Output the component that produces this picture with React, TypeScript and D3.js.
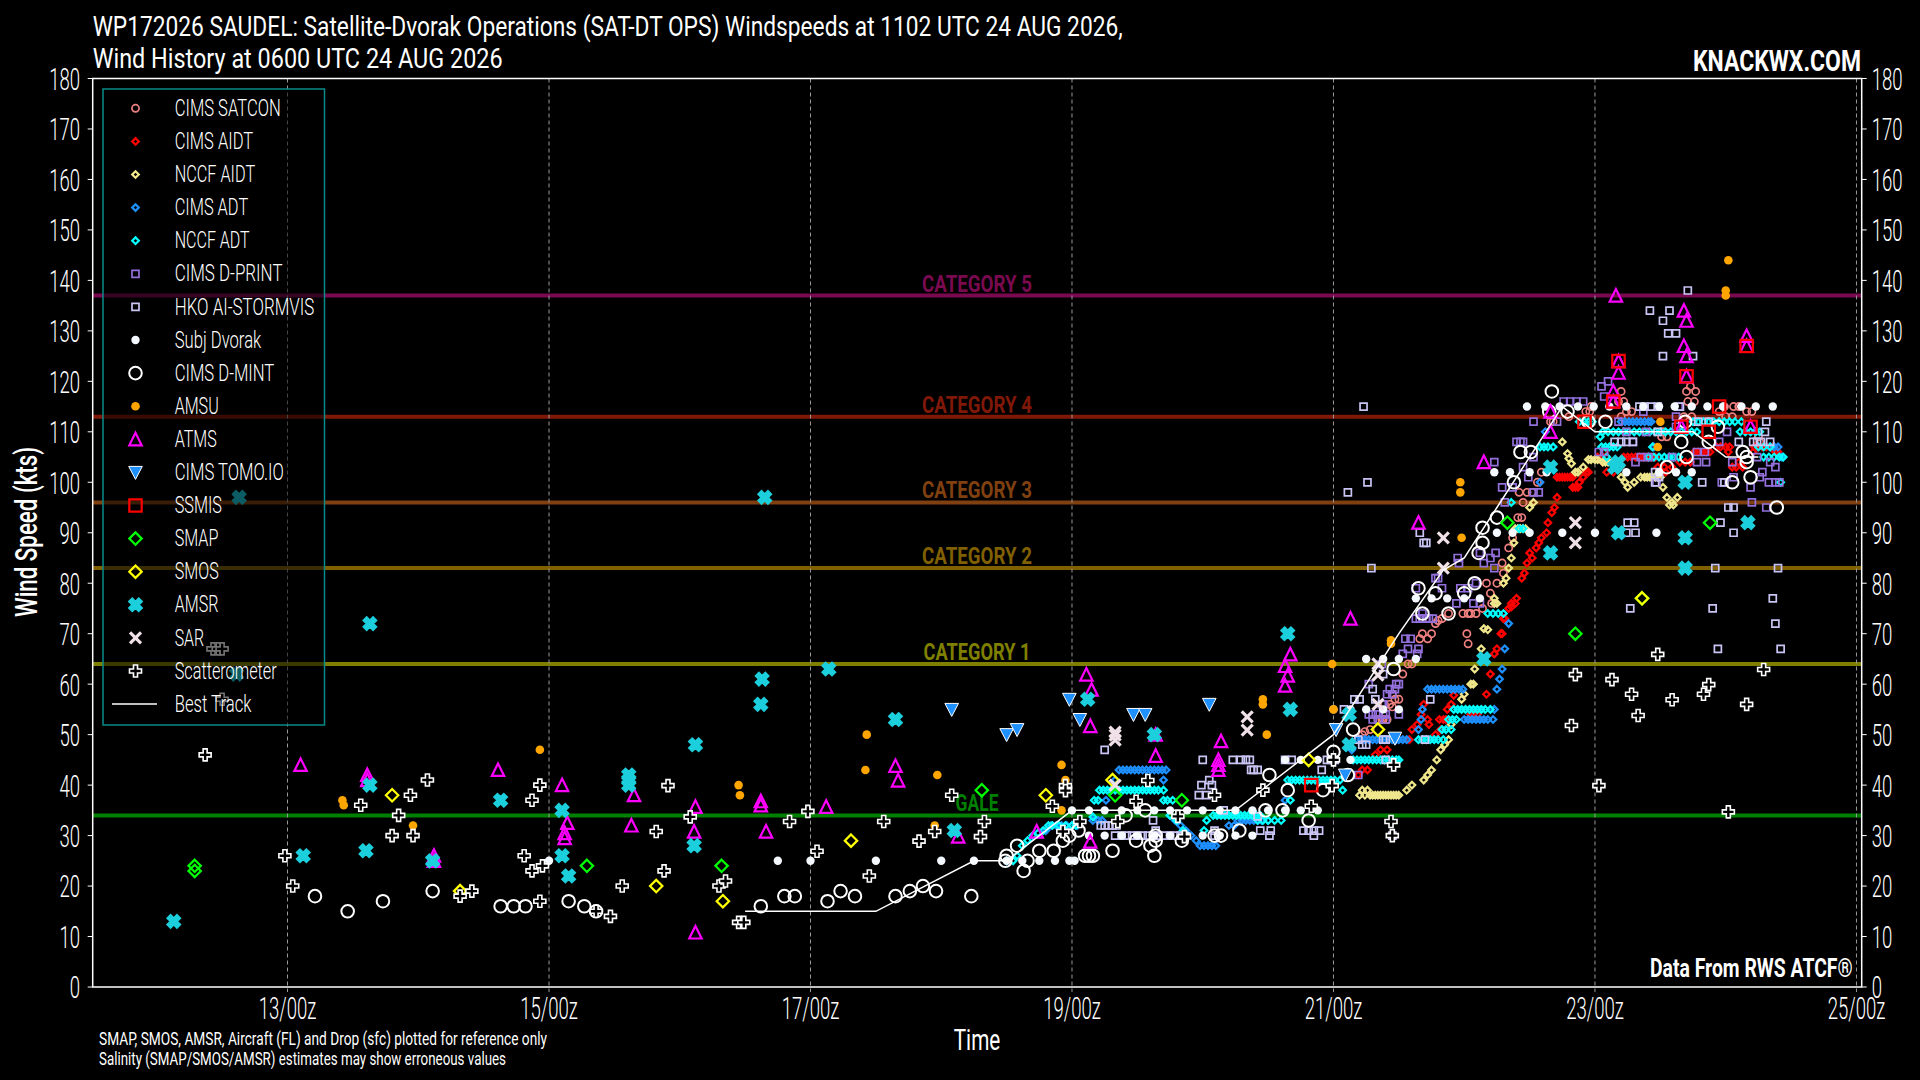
import React from 'react';
import * as d3 from 'd3';

type Pt = [number, number];

// x = day of August (UTC, fractional), y = knots
const satcon: Pt[] = [
  [21.22,50],[21.24,50.6],[21.28,51],[21.34,53],[21.37,53],[21.38,53],[21.41,53],[21.39,56],[21.43,56],[21.45,55.5],[21.45,58],
  [21.47,57],[21.5,57],[21.53,62],[21.57,64],[21.6,64],[21.66,69],[21.68,70],[21.72,69],[21.75,70],[21.78,72],[21.8,72.6],[21.83,73],
  [21.88,74],[21.99,74],[22.03,74],[22.05,74],[22.09,74],[22.14,75],[22.02,70],[22.03,68],[22.21,76],[22.2,78],[22.17,80],[22.25,80],
  [22.3,82],[22.29,84],[22.34,87],[22.37,89],[22.41,93],[22.44,93],[22.45,96],[22.42,98],[22.48,98],[22.52,98],[22.56,100],[22.59,102],
  [22.66,112],[22.68,112],[22.8,113],[22.93,114],[22.96,114],[22.97,115],[23.18,116],[23.2,118],[23.22,116],[23.2,113],[23.24,114],[23.28,114],
  [23.51,109],[23.52,110],[23.55,109],[23.68,113],[23.7,118],[23.73,119],[23.77,118],[23.71,116],[23.76,116],[23.74,113],[23.95,114],
  [24.0,113],[24.05,113],[23.99,115],[24.06,115],[24.1,115],[24.16,114],[24.2,114],[24.25,109],[24.26,108],
];
const cimsAidt: Pt[] = [
  [21.19,42],[21.22,43],[21.26,43],[21.32,46],[21.36,47],[21.41,47],[21.58,49],[21.6,51],[21.64,52],[21.67,54],[21.69,56],[21.72,53],[21.73,52],
  [21.78,50],[21.81,53],[21.82,51],[21.84,53],[21.86,53],[21.87,55],[21.9,56],[21.92,57.8],[22.05,54],[22.07,54],[22.1,54],[22.17,58],[22.2,62],
  [22.23,66],[22.25,67],[22.28,70],[22.29,70],[22.3,73],[22.31,73],[22.34,75],[22.36,75.3],[22.36,76],[22.39,76],[22.4,77],[22.44,81],[22.46,82],[22.48,84],
  [22.5,86],[22.52,85],[22.55,87],[22.57,88],[22.59,89],[22.63,90],[22.64,92],[22.67,94],[22.69,95],[22.71,97],[22.71,101],[22.73,101],[22.75,101],
  [22.77,101],[22.79,101],[22.81,101],[22.83,101],[22.83,99],[22.85,99],[22.87,99],[22.88,100],[22.91,101],[22.93,102],[22.95,102],[23.02,105],
  [23.06,104],[23.07,106],[23.09,102],[23.14,102],[23.22,105],[23.25,105],[23.28,105],[23.31,105],[23.34,105],[23.37,105],[23.4,105],[23.43,105],
  [23.46,105],[23.48,103],[23.53,103],[23.54,102],[23.59,103],[23.65,104],[23.69,104],[23.73,104],[23.76,106],[23.79,106],[23.82,106],[23.85,106],
  [23.88,106],[23.93,107],[23.96,107],[24.0,107],[24.02,106],[24.03,107],[24.05,103],[24.08,103],[24.1,104],[24.13,103],[24.21,106],[24.22,107],
  [24.25,107],[24.28,107],[24.31,107],[24.34,107],[24.36,107],[24.38,106],[24.4,106],
];
const nccfAidt: Pt[] = [
  [21.2,38],[21.22,39],[21.24,38],[21.26,39],[21.28,38],[21.3,38],[21.32,38],[21.34,38],[21.36,38],[21.38,38],[21.4,38],[21.42,38],[21.44,38],[21.46,38],[21.48,38],[21.5,38],
  [21.56,39],[21.6,40],[21.69,41],[21.72,42],[21.75,43],[21.79,45],[21.82,47],[21.85,48],[21.88,49],[21.9,52],[21.98,57],[22.0,58],[22.05,60],[22.07,60],[22.08,63],
  [22.13,67],[22.15,71],[22.18,70.8],[22.23,76],[22.23,77],[22.25,76],[22.3,80],[22.32,81],[22.34,83],[22.36,85],[22.38,88],[22.39,90.8],[22.41,90.8],[22.43,90.8],
  [22.45,90.8],[22.47,90.8],[22.5,95],[22.53,96],[22.75,108],[22.79,105.7],[22.8,104.7],[22.82,103.7],[22.85,102],[22.87,102],[22.91,103],[22.95,104.5],[22.97,104.5],
  [23.0,104.5],[23.02,104.5],[23.06,104],[23.08,104],[23.1,104],[23.13,104],[23.15,104],[23.19,103],[23.2,101],[23.23,100],[23.25,99],[23.3,100],[23.35,101],
  [23.38,101],[23.4,101],[23.42,101],[23.44,101],[23.46,101],[23.48,101],[23.5,101],[23.52,99],[23.55,97],[23.59,96],[23.63,97],[23.57,95.5],[23.6,95.5],
];
const cimsAdt: Pt[] = [
  [18.8,31],[18.84,32],[18.88,32],[18.92,32],[18.96,32],[19.0,32],[19.04,32],[19.16,33],[19.2,33],[19.23,33],[19.26,37],[19.33,41],
  [19.36,43],[19.39,43],[19.42,43],[19.45,43],[19.48,43],[19.51,43],[19.54,43],[19.57,43],[19.6,43],[19.63,43],[19.66,43],[19.69,43],[19.72,43],[19.7,41],
  [19.75,34],[19.79,33],[19.83,32],[19.87,31],[19.91,30],[19.95,29],[19.98,28],[20.01,28],[20.04,28],[20.07,28],[20.1,28],[20.2,32],[20.24,32],
  [20.27,33],[20.3,33],[20.33,33],[20.36,33],[20.39,33],[20.42,33],[20.45,33],[20.5,33],[20.63,37],[21.14,47],[21.18,49],[21.21,49],[21.24,49],[21.27,49],
  [21.3,49],[21.33,49],[21.36,49],[21.39,49],[21.42,49],[21.45,49],[21.48,49],[21.5,49],[21.53,49],[21.56,49],[21.65,51],[21.67,53],[21.68,55],
  [21.72,59],[21.75,59],[21.78,59],[21.81,59],[21.84,59],[21.87,59],[21.9,59],[21.93,59],[21.96,59],[21.99,59],[22.0,53],[22.03,53],[22.06,53],[22.09,53],
  [22.12,53],[22.15,53],[22.18,53],[22.22,53],[22.23,55],[22.25,59],[22.27,61],[22.29,63],[22.31,67],[22.34,72],[22.58,100],[22.62,110],[23.2,112],[23.23,112],
  [23.26,112],[23.29,112],[23.32,112],[23.35,112],[23.38,112],[23.41,112],[23.43,112],[23.45,107],[24.34,107],[24.37,107],[24.4,107],[24.43,105],
];
const nccfAdt: Pt[] = [
  [18.5,25],[18.55,25],[18.58,26],[18.62,28],[18.66,29],[18.7,30],[18.74,30.5],[18.78,31],[18.82,32],[18.85,32],[18.9,32],[18.95,32],[19.0,32],[19.03,32],[19.16,33.7],
  [19.17,37],[19.2,37],[19.21,39],[19.24,39],[19.27,39],[19.3,39],[19.33,39],[19.36,39],[19.39,39],[19.42,39],[19.45,39],[19.48,39],[19.51,39],[19.54,39],[19.57,39],[19.6,39],[19.63,39],[19.66,39],[19.7,39],
  [19.7,37],[19.73,37],[19.77,37],[19.75,34],[19.8,33],[19.85,31],[20.01,31],[20.03,33],[20.08,34],[20.11,34],[20.14,34],[20.17,34],[20.2,34],[20.23,34],[20.26,34],[20.29,34],[20.32,34],[20.35,34],[20.38,34],[20.41,34],[20.44,34],
  [20.42,33],[20.46,33],[20.5,33],[20.55,33],[20.6,33],[20.67,37],[20.65,41],[20.68,41],[20.71,41],[20.74,41],[20.77,41],[20.8,41],[20.83,41],[20.86,41],[20.89,41],[20.92,41],[20.95,41],[20.98,41],[21.01,41],[21.05,41],[21.07,39],
  [21.15,45],[21.18,45],[21.21,45],[21.24,45],[21.27,45],[21.3,45],[21.33,45],[21.36,45],[21.39,45],[21.42,45],[21.45,45],[21.48,45],[21.5,45],
  [21.65,49],[21.68,49],[21.71,49],[21.74,49],[21.77,49],[21.8,49],[21.84,49],[21.83,51],[21.86,51],[21.9,51],[21.88,53],[21.91,53],[21.94,53],
  [21.92,55],[21.95,55],[21.98,55],[22.01,55],[22.04,55],[22.07,55],[22.1,55],[22.13,55],[22.16,55],[22.2,55],[22.18,74],[22.22,74],[22.26,74],[22.3,74],
  [22.36,96],[22.42,90.8],[22.45,90.8],[22.58,107],[22.61,107],[22.64,107],[22.68,107],[22.88,112],[22.92,112],[22.95,112],[22.98,112],[23.04,109],[23.05,107],[23.08,107],[23.11,107],[23.14,107],[23.17,107],
  [23.09,105],[23.06,110],[23.1,110],[23.14,110],[23.18,110],[23.22,110],[23.26,110],[23.3,110],[23.34,110],[23.38,110],[23.42,110],[23.46,110],[23.5,110],[23.54,110],[23.58,110],[23.62,110],[23.66,110],[23.7,110],[23.74,110],[23.78,110],
  [23.41,105],[23.45,105],[23.49,105],[23.53,105],[23.57,105],[23.6,105],[23.64,105],[23.44,107],[23.75,112],[23.79,112],[23.83,112],[23.87,112],[23.91,112],[23.95,112],[23.99,112],[24.03,112],[24.07,112],[24.12,112],
  [24.11,110],[24.15,110],[24.19,110],[24.23,110],[24.26,110],[24.25,107],[24.29,107],[24.34,107],[24.29,105],[24.33,105],[24.37,105],[24.41,105],[24.44,105],[24.42,100],
];
const dPrint: Pt[] = [
  [21.19,42],[21.3,53],[21.34,53],[21.4,53],[21.3,54],[21.34,54],[21.38,54],[21.27,54],[21.4,54],[21.5,54],[21.37,56],[21.38,56],[21.41,58],[21.45,58],[21.43,59],[21.48,60],[21.27,60],[21.47,59],[21.5,60],[21.37,64],
  [21.53,66],[21.55,69],[21.57,67],[21.64,66],[21.65,67],[21.59,69],[21.63,79],[21.63,73],[21.68,73],[21.73,73],[21.68,74],[21.66,73],[21.71,73],[21.76,73],
  [21.78,81],[21.8,81],[21.83,79],[21.94,76],[21.97,79],[22.03,79],[22.09,80],[22.07,76],[22.12,76],[21.95,85],[21.96,84],[22.12,86],[22.15,84],[22.2,85],[22.23,83],[22.24,86],
  [22.23,104],[22.29,99],[22.37,99],[22.31,96],[22.4,108],[22.45,108],[22.53,112],[22.53,98],[22.49,101],[22.45,103],[22.53,105],[22.43,108],[22.57,98],
  [22.71,112],[22.76,116],[22.81,116],[22.86,116],[22.91,116],[23.03,106],[23.05,119],[23.1,120],[23.07,117],[23.07,106],[23.18,112],[23.24,110],[23.29,108],[23.31,104],[23.35,105],
  [23.37,114],[23.39,110],[23.41,105],[23.47,100],[23.59,105],[23.62,113],[23.62,111],[23.64,115],[23.78,106],[23.84,106],[23.78,104],[23.85,104],[23.95,108],[23.97,100],[24.01,110],
  [24.05,104],[24.06,101],[24.19,99],[24.2,96],[24.24,105],[24.26,101],[24.28,102],[24.31,95],[24.33,100],[24.34,104],[24.38,100],[24.38,103],[24.41,100],
];
const hko: Pt[] = [
  [19.22,32],[19.25,32],[19.28,32],[19.31,32],[19.34,32],[19.25,47],[19.33,30],[19.38,30],[19.42,30],[19.46,30],[19.5,30],[19.54,30],[19.58,30],[19.62,30],[19.66,30],[19.7,30],[19.75,30],[19.79,30],[19.83,30],
  [19.62,33],[19.64,31],[19.97,38],[20.03,38],[19.99,40],[20.07,40],[20.05,41],[20.0,45],[20.09,31],[20.09,30],[20.16,35],[20.23,45],[20.29,45],[20.33,45],[20.36,45],[20.37,43],[20.39,43],[20.42,43],
  [20.42,33.8],[20.44,31],[20.51,30],[20.52,31],[20.63,45],[20.68,45],[20.77,31],[20.81,31],[20.85,31],[20.89,31],[20.85,30],[20.91,43],[20.95,45],[20.98,45],[21.01,45],[21.08,55],[21.16,57],[21.2,57],
  [21.11,98],[21.23,115],[21.26,100],[21.29,83],[21.19,49],[21.22,48],[21.25,48],[21.3,59],[21.32,57],[21.38,49],[21.38,62],[21.4,45],[21.4,49],[21.45,30],[21.66,90],[21.69,88],[21.71,88],[21.7,49],[21.74,57],
  [23.15,108],[23.2,108],[23.24,108],[23.29,108],[23.25,92],[23.3,92],[23.24,90],[23.31,90],[23.27,75],[23.34,115],[23.38,115],[23.43,115],[23.48,115],[23.42,134],[23.46,102],[23.49,101],[23.46,100],[23.48,110],
  [23.52,125],[23.52,132],[23.56,129.5],[23.62,129.5],[23.57,134],[23.65,115],[23.71,138],[23.75,125],[23.79,112],[23.82,100],[23.87,112],[23.9,75],[23.92,83],[23.94,67],[23.96,92],[23.99,100],[24.02,95],[24.06,95],[24.06,90],
  [24.1,108],[24.21,108],[24.24,108],[24.27,108],[24.3,110],[24.31,112],[24.34,108],[24.36,77],[24.38,72],[24.4,83],[24.42,67],
];
const subjDvorak: Pt[] = [
  [15,25],[16.75,25],[17,25],[17.5,25],[18,25],[18.25,25],[18.5,25],[18.62,25],[18.75,25],[18.87,25],[18.98,25],[19.02,25],
  [19.0,35],[19.13,35],[19.25,35],[19.38,35],[19.5,35],[19.63,35],[19.75,35],[19.88,35],[20,35],[20.13,35],[20.25,35],[20.38,35],[20.5,35],[20.63,35],[20.75,35],[20.88,35],
  [19.13,30],[19.25,30],[19.38,30],[19.5,30],[19.63,30],[19.75,30],[19.88,30],[20,30],[20.13,30],[20.25,30],[20.38,30],
  [20.63,45],[20.75,45],[20.88,45],[21,45],[21.13,45],[21,55],[21.13,55],[21.25,55],[21.38,55],[21.5,55],[21.25,65],[21.38,65],[21.5,65],[21.63,65],
  [21.63,77],[21.75,77],[21.87,77],[22,77],[22.12,77],[22.25,90],[22.37,90],[22.5,90],[22.75,90],[23,90],[23.47,90],[22.23,102],[22.35,102],[22.5,102],[22.63,102],[23.24,102],[23.49,102],[23.62,102],[23.74,102],
  [22.48,115],[22.62,115],[22.73,115],[22.87,115],[22.99,115],[23.11,115],[23.24,115],[23.37,115],[23.49,115],[23.61,115],[23.74,115],[23.86,115],[23.98,115],[24.12,115],[24.23,115],[24.36,115],
];
const dMint: Pt[] = [
  [13.21,18],[13.46,15],[13.73,17],[14.11,19],[14.63,16],[14.73,16],[14.82,16],[15.15,17],[15.27,16],[15.36,15],[16.62,16],[16.8,18],[16.88,18],[17.13,17],[17.23,19],[17.34,18],
  [17.65,18],[17.76,19],[17.86,20],[17.96,19],[18.23,18],[18.49,25],[18.5,26],[18.58,28],[18.63,23],[18.66,25],[18.75,27],[18.86,27],[18.93,29],[18.98,30],[19.05,31],[19.1,26],[19.16,26],[19.13,26],
  [19.31,27],[19.41,34],[19.49,29],[19.56,35],[19.6,28],[19.64,30],[19.64,29],[19.63,26],[19.84,29],[20.09,30],[20.14,30],[20.28,31],[20.48,35],[20.61,35],[20.65,39],[20.51,42],[20.81,33],[20.92,39],
  [21,46.6],[21.11,42],[21.15,51],[21.46,63],[21.65,79],[21.68,74],[21.78,78],[21.88,74],[22,78],[22.08,80],[22.11,86],[22.14,88],[22.14,91],[22.25,93],[22.38,100],[22.43,106],[22.51,106],[22.65,114],[22.67,118],[22.79,114],
  [22.95,112],[23.08,112],[23.55,103],[23.66,108],[23.69,112],[23.7,105],[23.87,108],[23.94,111],[24.05,100],[24.13,106],[24.16,105],[24.16,104],[24.19,101],[24.39,95],
];
const amsu: Pt[] = [
  [13.42,37],[13.43,36],[13.96,32],[14.93,47],[16.45,40],[16.46,38],[17.43,50],[17.42,43],[17.97,42],[17.95,32],[18.92,44],[18.95,41],[18.92,35],[20.46,57],[20.46,56],[20.49,50],[20.99,64],[21,55],
  [21.44,68.7],[21.44,68],[21.97,100],[21.97,98],[21.98,89],[23.48,107],[23.5,112],[24,138],[24,137],[24.02,144],
];
const atms: Pt[] = [
  [13.1,44],[13.61,42],[13.61,41],[14.12,26],[14.12,25],[14.61,43],[15.1,40],[15.14,32.5],[15.12,30.5],[15.12,29.5],[15.63,32],[15.65,38],[16.11,30.8],[16.12,35.7],[16.12,10.8],[16.62,36.8],[16.62,36],[16.66,30.8],
  [17.12,35.7],[17.65,43.8],[17.67,40.9],[18.13,29.8],[18.73,30.8],[19.11,61.9],[19.15,58.9],[19.14,51.7],[19.14,28.8],[19.64,50],[19.64,45.8],[20.14,48.7],[20.12,45],[20.12,44],[20.12,43],
  [20.63,63.6],[20.63,59.7],[20.65,61.7],[20.67,65.9],[21.13,73],[21.65,92],[22.15,104],[22.66,114],[22.66,110],[23.14,118],[23.14,116],[23.16,137],[23.18,124],[23.18,121.7],
  [23.66,111],[23.68,134],[23.68,127],[23.7,132],[23.7,125],[23.7,121],[24.16,129],[24.16,127],[24.19,111],
];
const tomo: Pt[] = [[18.08,55],[18.5,50],[18.58,51],[18.98,57],[19.06,53],[19.47,54],[19.56,54],[20.05,56],[21.02,51],[21.09,42],[21.47,49.3]];
const ssmis: Pt[] = [[20.83,40],[22.92,112],[23.14,116],[23.18,124],[23.66,111],[23.7,121],[23.87,110],[23.95,115],[24.16,127],[24.19,111]];
const smap: Pt[] = [[12.29,24],[12.29,23],[15.29,24],[16.32,24],[18.31,39],[19.33,38],[19.84,37],[22.33,92],[22.85,70],[23.36,77],[23.88,92]];
const smos: Pt[] = [[13.8,38],[14.32,19],[15.82,20],[16.33,17],[17.31,29],[18.8,38],[19.31,41],[20.81,45],[21.34,51],[23.36,77]];
const amsr: Pt[] = [
  [12.13,13],[12.61,62],[12.63,97],[13.12,26],[13.6,27],[13.63,40],[13.63,72],[14.11,25],[14.63,37],[15.1,35],[15.1,26],[15.15,22],[15.61,42],[15.61,41],[15.61,40],[16.11,28],[16.12,48],[16.62,56],[16.63,61],[16.65,97],
  [17.14,63],[17.65,53],[18.1,31],[19.12,57],[19.63,50],[20.65,70],[20.67,55],[21.12,54],[21.12,48],[22.15,65],[22.66,103],[22.66,86],[23.15,103],[23.18,104],[23.18,90],[23.69,100],[23.69,89],[23.69,83],[24.17,92],
];
const sar: Pt[] = [[19.33,50.5],[19.33,49.9],[19.33,48.9],[19.33,40],[20.34,53.5],[20.34,50.9],[21.34,64],[21.34,61.8],[21.34,56],[21.84,89],[21.84,83],[22.85,92],[22.85,88]];
const scatterometer: Pt[] = [
  [12.37,46],[12.43,67],[12.47,67],[12.5,67],[12.5,57],[12.98,26],[13.04,20],[13.56,36],[13.8,30],[13.85,34],[13.94,38],[13.96,30],[14.07,41],[14.32,18],[14.41,19],[14.81,26],[14.87,23],[14.87,37],[14.93,40],[14.93,17],[14.95,24],
  [15.36,15],[15.47,14],[15.56,20],[15.82,30.8],[15.88,23],[15.91,39.9],[16.08,33.7],[16.3,20],[16.35,21],[16.45,12.8],[16.49,12.8],[16.84,32.8],[16.98,34.8],[17.05,26.9],[17.45,22],[17.56,32.8],[17.83,28.9],[17.95,30.8],
  [18.08,38],[18.3,29.8],[18.33,32.8],[18.85,35.8],[18.93,30.8],[18.95,39.9],[18.95,38.9],[19.06,32.8],[19.35,32.8],[19.49,36.8],[19.58,40.9],[19.81,33.8],[19.86,29.8],[20.09,38],[20.46,39],[20.83,35.8],[20.99,39.9],[21,45],
  [21.44,32.8],[21.46,44],[21.45,30],[22.82,51.8],[22.85,61.9],[23.03,39.9],[23.13,60.9],[23.28,58],[23.33,53.8],[23.48,65.9],[23.59,56.9],[23.83,58],[23.87,59.9],[24.02,34.7],[24.16,56],[24.29,62.9],
];
const bestTrack: Pt[] = [
  [16.5,15],[17.5,15],[18.25,25],[18.5,25],[19,35],[20.25,35],[21,50],[21.5,70],[21.84,82.6],[22,85],[22.25,95],[22.5,105],[22.75,115],[23,110],[23.75,110],[24,105],[24.25,105],
];

const yTicks = d3.range(0, 190, 10);
const xTicks = [13, 15, 17, 19, 21, 23, 25];
const xTickLabels = ['13/00z', '15/00z', '17/00z', '19/00z', '21/00z', '23/00z', '25/00z'];
const categoryNames = ['CATEGORY 5', 'CATEGORY 4', 'CATEGORY 3', 'CATEGORY 2', 'CATEGORY 1', 'GALE'];
const categoryWinds = [137, 113, 96, 83, 64, 34];

const W = 1920;
const H = 1080;
const left = 92.7;
const right = 1861.7;
const top = 78.5;
const bottom = 987;
const light = 'Roboto, "Liberation Sans Narrow", sans-serif';

const x = d3.scaleLinear().domain([11.51, 25.04]).range([left, right]);
const y = d3.scaleLinear().domain([0, 180]).range([bottom, top]);
const categoryColors = ['#7a0a50', '#801808', '#804010', '#806000', '#808000', '#008000'];
const categoryWidths = [110, 110, 110, 110, 107, 43];

const poly = (pts: number[][]) => d3.line()(pts as [number, number][]) + 'Z';
const diamond = (r: number) => poly([[0, -r], [r, 0], [0, r], [-r, 0]]);
const square = (r: number) => poly([[-r, -r], [r, -r], [r, r], [-r, r]]);
const circle = (r: number) => d3.arc()({ innerRadius: 0, outerRadius: r, startAngle: 0, endAngle: 2 * Math.PI } as any) as string;
const u = 3.2;
const xFilled = poly([[-1, -2], [0, -1], [1, -2], [2, -1], [1, 0], [2, 1], [1, 2], [0, 1], [-1, 2], [-2, 1], [-1, 0], [-2, -1]].map(([a, b]) => [a * u, b * u]));
const plusShape = poly([[-2, -6], [2, -6], [2, -2], [6, -2], [6, 2], [2, 2], [2, 6], [-2, 6], [-2, 2], [-6, 2], [-6, -2], [-2, -2]]);

const series = [
  { name: 'CIMS SATCON', data: satcon, d: circle(3.6), fill: 'none', stroke: '#f08080', sw: 1.7, tw: 106 },
  { name: 'CIMS AIDT', data: cimsAidt, d: diamond(3.3), fill: 'none', stroke: '#ff0000', sw: 2.2, tw: 78.4 },
  { name: 'NCCF AIDT', data: nccfAidt, d: diamond(3.3), fill: 'none', stroke: '#f0e68c', sw: 2.2, tw: 80.4 },
  { name: 'CIMS ADT', data: cimsAdt, d: diamond(3.3), fill: 'none', stroke: '#1e90ff', sw: 2.2, tw: 73.5 },
  { name: 'NCCF ADT', data: nccfAdt, d: diamond(3.3), fill: 'none', stroke: '#00ffff', sw: 2.2, tw: 75 },
  { name: 'CIMS D-PRINT', data: dPrint, d: square(3.5), fill: 'none', stroke: '#9370db', sw: 1.7, tw: 107.8 },
  { name: 'HKO AI-STORMVIS', data: hko, d: square(3.5), fill: 'none', stroke: '#c8c4f4', sw: 1.7, tw: 139.6 },
  { name: 'Subj Dvorak', data: subjDvorak, d: circle(4.2), fill: '#f4f8ff', stroke: 'none', sw: 0, tw: 86.5 },
  { name: 'CIMS D-MINT', data: dMint, d: circle(6.3), fill: 'none', stroke: '#ffffff', sw: 2, tw: 99.6 },
  { name: 'AMSU', data: amsu, d: circle(4.3), fill: '#ffa500', stroke: 'none', sw: 0, tw: 44 },
  { name: 'ATMS', data: atms, d: poly([[0, -6.5], [6.2, 6], [-6.2, 6]]), fill: 'none', stroke: '#ff00ff', sw: 2.2, tw: 42 },
  { name: 'CIMS TOMO.IO', data: tomo, d: poly([[-6.8, -6], [6.8, -6], [0, 7]]), fill: '#1e90ff', stroke: '#ffffff', sw: 1, tw: 109 },
  { name: 'SSMIS', data: ssmis, d: square(6.2), fill: 'none', stroke: '#ff0000', sw: 2.2, tw: 47.3 },
  { name: 'SMAP', data: smap, d: diamond(6.2), fill: 'none', stroke: '#00ff00', sw: 2.2, tw: 43.7 },
  { name: 'SMOS', data: smos, d: diamond(6.2), fill: 'none', stroke: '#ffff00', sw: 2.2, tw: 44 },
  { name: 'AMSR', data: amsr, d: xFilled, fill: '#1ccfdc', stroke: '#1ccfdc', sw: 2, tw: 43.7 },
  { name: 'SAR', data: sar, d: 'M-5.5,-5.5L5.5,5.5M5.5,-5.5L-5.5,5.5', fill: 'none', stroke: '#f0e0e8', sw: 3.2, tw: 29.4 },
  { name: 'Scatterometer', data: scatterometer, d: plusShape, fill: '#000000', stroke: '#ffffff', sw: 1.6, tw: 102 },
];

const lineGen = d3.line<Pt>().x((d) => x(d[0])).y((d) => y(d[1]));
const legendRow = (i: number) => 108.3 + i * 33.1;
const tickSize = 32;
const tickScale = 0.58;

const Txt: React.FC<any> = ({ w, children, weight = 300, size, fill = '#ffffff', ...rest }) => (
  <text textLength={w} lengthAdjust="spacingAndGlyphs" fontFamily={light} fontWeight={weight} fontSize={size} fill={fill} {...rest}>
    {children}
  </text>
);

// tick labels are narrowed with a transform so their boxes stay inside the page
const Tick: React.FC<any> = ({ px, py, anchor, children }) => (
  <text transform={`translate(${px},${py}) scale(${tickScale},1)`} textAnchor={anchor} fontFamily={light} fontWeight={300} fontSize={tickSize} fill="#ffffff">
    {children}
  </text>
);

export default function App() {
  return (
    <div style={{ position: 'fixed', left: 0, top: 0, width: W, height: H, background: '#000' }}>
      <svg width={W} height={H} style={{ display: 'block' }}>
        <rect width={W} height={H} fill="#000" />
        {categoryWinds.map((c, i) => (
          <line key={c} x1={left} x2={right} y1={y(c)} y2={y(c)} stroke={categoryColors[i]} strokeWidth={4} />
        ))}
        {categoryWinds.map((c, i) => (
          <Txt key={c} x={977} y={y(c) - 4} textAnchor="middle" w={categoryWidths[i]} size={23.5} weight={700} fill={categoryColors[i]}>
            {categoryNames[i]}
          </Txt>
        ))}
        {xTicks.map((t) => (
          <line key={t} x1={x(t)} x2={x(t)} y1={top} y2={bottom + 5} stroke="#999" strokeWidth={1} strokeDasharray="4 3" />
        ))}

        {series.map((s) => (
          <g key={s.name}>
            {s.data.map((p, i) => (
              <path key={i} transform={`translate(${x(p[0])},${y(p[1])})`} d={s.d} fill={s.fill} stroke={s.stroke} strokeWidth={s.sw} />
            ))}
          </g>
        ))}
        <path d={lineGen(bestTrack) as string} fill="none" stroke="#ffffff" strokeWidth={1.5} />

        {/* frame */}
        <rect x={left} y={top} width={right - left} height={bottom - top} fill="none" stroke="#ffffff" strokeWidth={1.5} />
        {yTicks.map((t) => (
          <g key={t}>
            <line x1={left - 5} x2={left} y1={y(t)} y2={y(t)} stroke="#ffffff" strokeWidth={1} />
            <line x1={right} x2={right + 5} y1={y(t)} y2={y(t)} stroke="#ffffff" strokeWidth={1} />
            <Tick px={80} py={y(t) + 11.4} anchor="end">{t}</Tick>
            <Tick px={1871.7} py={y(t) + 11.4} anchor="start">{t}</Tick>
          </g>
        ))}
        {xTicks.map((t, i) => (
          <Tick key={t} px={x(t)} py={1018.5} anchor="middle">{xTickLabels[i]}</Tick>
        ))}

        {/* legend */}
        <rect x={103} y={89} width={221.5} height={636} fill="#000" fillOpacity={0.55} stroke="#0a8a8a" strokeWidth={1.5} />
        {series.map((s, i) => (
          <g key={s.name}>
            <path transform={`translate(135.5,${legendRow(i)})`} d={s.d} fill={s.fill} stroke={s.stroke} strokeWidth={s.sw} />
            <Txt x={174.7} y={legendRow(i) + 7.6} size={24.5} w={s.tw}>{s.name}</Txt>
          </g>
        ))}
        <line x1={112} x2={157} y1={legendRow(18)} y2={legendRow(18)} stroke="#ffffff" strokeWidth={1.5} />
        <Txt x={174.7} y={legendRow(18) + 7.6} size={24.5} w={76.7}>Best Track</Txt>

        {/* text */}
        <Txt x={92.7} y={36} size={28.5} w={1030} weight={400}>WP172026 SAUDEL: Satellite-Dvorak Operations (SAT-DT OPS) Windspeeds at 1102 UTC 24 AUG 2026,</Txt>
        <Txt x={92.7} y={68.3} size={28.5} w={410} weight={400}>Wind History at 0600 UTC 24 AUG 2026</Txt>
        <Txt x={1693} y={71} size={29} w={168} weight={700}>KNACKWX.COM</Txt>
        <Txt x={977} y={1050} textAnchor="middle" size={29} w={46.5} weight={400}>Time</Txt>
        <Txt transform="translate(36.7,532) rotate(-90)" textAnchor="middle" size={31} w={170} weight={500}>Wind Speed (kts)</Txt>
        <Txt x={99} y={1045} size={18} w={448} weight={400}>SMAP, SMOS, AMSR, Aircraft (FL) and Drop (sfc) plotted for reference only</Txt>
        <Txt x={99} y={1065} size={18} w={407} weight={400}>Salinity (SMAP/SMOS/AMSR) estimates may show erroneous values</Txt>
        <Txt x={1650} y={976.7} size={25} w={202.7} weight={700}>Data From RWS ATCF®</Txt>
      </svg>
    </div>
  );
}
